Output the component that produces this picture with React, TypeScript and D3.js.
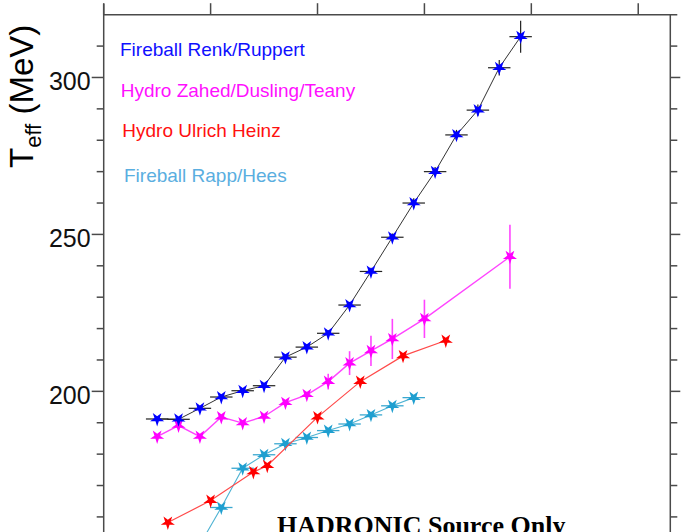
import React from "react";
import * as d3 from "d3";

// ---- data ----
const renkX = [0.10, 0.14, 0.18, 0.22, 0.26, 0.30, 0.34, 0.38, 0.42, 0.46, 0.50, 0.54, 0.58, 0.62, 0.66, 0.70, 0.74, 0.78];
const renkY = [191.2, 191.1, 194.6, 198.2, 200.2, 201.8, 210.9, 214.1, 218.5, 227.5, 238.2, 249.1, 260.0, 270.0, 281.7, 289.6, 303.1, 313.0];
const renkErrY = [0.8, 0.8, 0.8, 0.8, 0.8, 0.8, 0.8, 0.8, 1, 1, 1.2, 1.2, 1.5, 1.5, 1.6, 1.8, 2.5, 5.1];
const renkErrX = 0.021;

const zahedX = [0.10, 0.14, 0.18, 0.22, 0.26, 0.30, 0.34, 0.38, 0.42, 0.46, 0.50, 0.54, 0.60, 0.76];
const zahedY = [185.6, 189.1, 185.6, 191.8, 189.9, 192.0, 196.4, 198.9, 203.1, 209.0, 212.9, 216.7, 223.1, 242.9];
const zahedErrY = [0, 0, 0, 0, 0, 0, 0, 1, 2.5, 3.8, 4.8, 6.4, 6.1, 10.2];

const heinzX = [0.12, 0.20, 0.28, 0.306, 0.40, 0.48, 0.56, 0.64];
const heinzY = [158.2, 165.2, 174.3, 176.3, 191.8, 203.1, 211.3, 216.2];

const rappX = [0.18, 0.22, 0.26, 0.30, 0.34, 0.38, 0.42, 0.46, 0.50, 0.54, 0.58];
const rappY = [151.2, 163.0, 175.5, 179.8, 183.3, 185.3, 187.5, 189.6, 192.5, 195.4, 198.0];
const rappErrX = 0.021;

const yMajorTicks = [200, 250, 300];
const yMinorTicks = [160, 170, 180, 190, 210, 220, 230, 240, 260, 270, 280, 290, 310];
const xTicks = [0, 0.2, 0.4, 0.6, 0.8, 1.0];

const legendLabels = ["Fireball Renk/Ruppert", "Hydro Zahed/Dusling/Teany", "Hydro Ulrich Heinz", "Fireball Rapp/Hees"];
const yLabel = { main: "T", sub: "eff", unit: "(MeV)" };
const noteText = "HADRONIC Source Only";

export default function App() {
  const W = 681, H = 532;
  const x = d3.scaleLinear().domain([0, 1.06]).range([103.7, 670.3]);
  const y = d3.scaleLinear().domain([150, 320]).range([548.3, 14.7]);
  const left = x(0), right = x(1.06), top = y(320), bottom = y(150);
  const axisColor = "#4a4a4a";
  const star = d3.symbol().type(d3.symbolStar).size(62)();
  const line = d3.line<number>();

  const mkLine = (xs: number[], ys: number[]) =>
    line(xs.map((v, i) => [x(v), y(ys[i])] as [number, number])) || "";

  const markers = (xs: number[], ys: number[], fill: string, key: string) =>
    xs.map((v, i) => (
      <path key={key + i} d={star} fill={fill} transform={`translate(${x(v)},${y(ys[i])}) rotate(180)`} />
    ));

  const font = "'Liberation Sans', Arial, sans-serif";

  return (
    <div style={{ position: "absolute", left: 0, top: 0 }}>
      <svg width={W} height={H} style={{ display: "block", background: "#fff" }}>
        {/* axes frame */}
        <line x1={left} x2={left} y1={top - 11} y2={bottom} stroke={axisColor} strokeWidth={1.5} />
        <line x1={right} x2={right} y1={top} y2={bottom} stroke={axisColor} strokeWidth={1.5} />
        <line x1={left} x2={right + 7} y1={top} y2={top} stroke={axisColor} strokeWidth={1.5} />
        {xTicks.map((t) => (
          <line key={"xt" + t} x1={x(t)} x2={x(t)} y1={top} y2={top - 11.5} stroke={axisColor} strokeWidth={1.5} />
        ))}
        {yMajorTicks.map((t) => (
          <g key={"ym" + t}>
            <line x1={left - 12} x2={left} y1={y(t)} y2={y(t)} stroke={axisColor} strokeWidth={1.5} />
            <line x1={right} x2={right + 10} y1={y(t)} y2={y(t)} stroke={axisColor} strokeWidth={1.5} />
            <text x={90.7} y={y(t) + 12.4} fontSize={25} fontFamily={font} textAnchor="end" fill="#111">
              {t}
            </text>
          </g>
        ))}
        {yMinorTicks.map((t) => (
          <g key={"yn" + t}>
            <line x1={left - 7} x2={left} y1={y(t)} y2={y(t)} stroke={axisColor} strokeWidth={1.5} />
            <line x1={right} x2={right + 7} y1={y(t)} y2={y(t)} stroke={axisColor} strokeWidth={1.5} />
          </g>
        ))}

        {/* y label */}
        <text transform="translate(33.3,168) rotate(-90)" fontFamily={font} fill="#000">
          <tspan fontSize={33}>{yLabel.main}</tspan>
          <tspan fontSize={22} dy={8}>{yLabel.sub}</tspan>
          <tspan fontSize={33} dy={-8}>{" " + yLabel.unit}</tspan>
        </text>

        {/* legend */}
        <g fontFamily={font} fontSize={19}>
          <text x={120} y={56} fill="#1010ff">{legendLabels[0]}</text>
          <text x={120.7} y={96.7} fill="#ff10ff">{legendLabels[1]}</text>
          <text x={122.3} y={137.3} fill="#ff1010">{legendLabels[2]}</text>
          <text x={124} y={182.3} fill="#5aaee0">{legendLabels[3]}</text>
        </g>

        {/* Rapp/Hees */}
        <path d={mkLine(rappX, rappY)} fill="none" stroke="#4fb3d3" strokeWidth={1.1} />
        {rappX.map((v, i) => (
          <line key={"rex" + i} x1={x(v - rappErrX)} x2={x(v + rappErrX)} y1={y(rappY[i])} y2={y(rappY[i])} stroke="#3aa8d0" strokeWidth={1.3} />
        ))}
        {markers(rappX, rappY, "#1f9fd0", "rm")}

        {/* Heinz */}
        <path d={mkLine(heinzX, heinzY)} fill="none" stroke="#ff4a4a" strokeWidth={1.2} />
        {markers(heinzX, heinzY, "#ff0000", "hm")}

        {/* Zahed */}
        <path d={mkLine(zahedX, zahedY)} fill="none" stroke="#ff44ff" strokeWidth={1.4} />
        {zahedX.map((v, i) =>
          zahedErrY[i] > 0 ? (
            <line key={"zey" + i} x1={x(v)} x2={x(v)} y1={y(zahedY[i] - zahedErrY[i])} y2={y(zahedY[i] + zahedErrY[i])} stroke="#ff44ff" strokeWidth={1.6} />
          ) : null
        )}
        {markers(zahedX, zahedY, "#ff00ff", "zm")}

        {/* Renk */}
        <path d={mkLine(renkX, renkY)} fill="none" stroke="#333" strokeWidth={1} />
        {renkX.map((v, i) => (
          <g key={"re" + i} stroke="#222" strokeWidth={1.2}>
            <line x1={x(v - renkErrX)} x2={x(v + renkErrX)} y1={y(renkY[i])} y2={y(renkY[i])} />
            <line x1={x(v)} x2={x(v)} y1={y(renkY[i] - renkErrY[i])} y2={y(renkY[i] + renkErrY[i])} />
          </g>
        ))}
        {markers(renkX, renkY, "#0000ff", "km")}

        {/* note */}
        <text x={277} y={534} fontFamily="'Liberation Serif', 'Times New Roman', serif" fontWeight="bold" fontSize={26} fill="#000">
          {noteText}
        </text>
      </svg>
    </div>
  );
}
